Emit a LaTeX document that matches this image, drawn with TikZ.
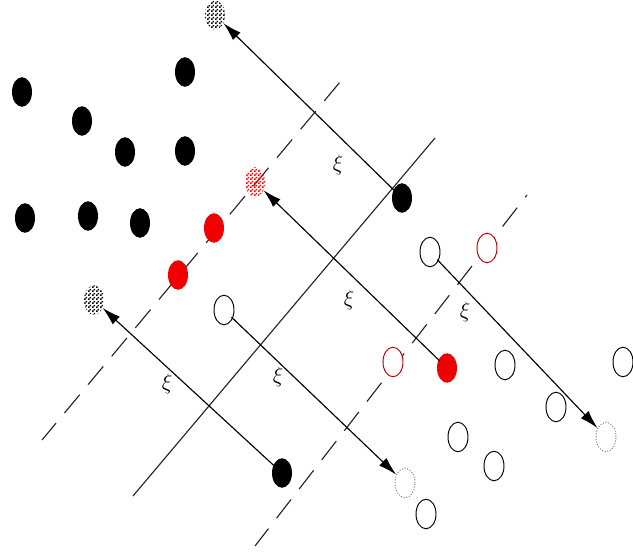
\documentclass[tikz,border=0pt]{standalone}
\usepackage{tikz}
\usetikzlibrary{shapes.geometric, arrows.meta, patterns}
\definecolor{rojoPunto}{HTML}{F00000}
\definecolor{grisPunto}{HTML}{707070}
\pgfdeclarepatternformonly{cuadritos}{\pgfqpoint{0pt}{0pt}}{\pgfqpoint{4pt}{4pt}}{\pgfqpoint{4pt}{4pt}}{%
    \pgfpathrectangle{\pgfqpoint{0pt}{0pt}}{\pgfqpoint{2pt}{2pt}}%
    \pgfpathrectangle{\pgfqpoint{2pt}{2pt}}{\pgfqpoint{2pt}{2pt}}%
    \pgfusepath{fill}}

\begin{document}
\begin{tikzpicture}[
        x=0.04cm, y=-0.04cm,
        dot/.style={ellipse, minimum width=0.8cm, minimum height=1.18cm, inner sep=0pt},
        blk/.style={dot, fill=black},
        rd/.style={dot, fill=rojoPunto},
        hol/.style={dot, draw=black, fill=white, line width=1.1pt},
        holr/.style={dot, draw=rojoPunto!80!black, fill=white, line width=1.1pt},
        ghost/.style={dot, draw=grisPunto, dotted, line width=1.1pt},
        chk/.style={dot, pattern=cuadritos, pattern color=black},
        chkr/.style={dot, pattern=cuadritos, pattern color=rojoPunto},
        mv/.style={-{Latex[length=21pt, width=12pt]}, line width=1.3pt, shorten <=-2pt},
        axis/.style={line width=1.3pt, black!85},
        cut/.style={line width=1.3pt, black!85, dash pattern=on 27pt off 15pt, dash phase=2pt},
        lbl/.style={font=\LARGE, scale=1.45}
    ]
        \useasboundingbox (0,0) rectangle (633,555);

        % lineas de separacion
        \coordinate (c1a) at (42,440);
        \coordinate (c1b) at (345,76);
        \coordinate (ma) at (133,496);
        \coordinate (mb) at (435,138);
        \coordinate (c2a) at (255,546);
        \coordinate (c2b) at (527,195);
        \draw[cut] (c1a) -- (c1b);
        \draw[axis] (ma) -- (mb);
        \draw[cut] (c2a) -- (c2b);

        % puntos negros
        \node[blk] (b1) at (22,92) {};
        \node[blk] (b2) at (185,72) {};
        \node[blk] (b3) at (82,121) {};
        \node[blk] (b4) at (125,152) {};
        \node[blk] (b5) at (185,151) {};
        \node[blk] (b6) at (25,218) {};
        \node[blk] (b7) at (88,216) {};
        \node[blk] (b8) at (140,223) {};
        \node[blk] (b9) at (402,198) {};
        \node[blk] (b10) at (282,473) {};

        % puntos rojos
        \node[rd] (r1) at (214,228) {};
        \node[rd] (r2) at (178,275) {};
        \node[rd] (r3) at (447,368) {};

        % puntos a cuadros
        \node[chk] (k1) at (215,15) {};
        \node[chk] (k2) at (94,300) {};
        \node[chkr] (k3) at (255,182) {};

        % puntos vacios
        \node[hol] (h1) at (430,252) {};
        \node[hol] (h2) at (224,310) {};
        \node[hol] (h3) at (505,365) {};
        \node[hol] (h4) at (556,407) {};
        \node[hol] (h5) at (623,362) {};
        \node[hol] (h6) at (458,437) {};
        \node[hol] (h7) at (494,466) {};
        \node[hol] (h8) at (426,514) {};
        \node[holr] (hr1) at (487,248) {};
        \node[holr] (hr2) at (393,362) {};
        \node[ghost] (g1) at (405,483) {};
        \node[ghost] (g2) at (606,437) {};

        % desplazamientos
        \draw[mv] (b9) -- (k1);
        \draw[mv] (r3) -- (k3);
        \draw[mv] (b10) -- (k2);
        \draw[mv] (h2) -- (g1);
        \draw[mv] (h1) -- (g2);

        \node[lbl] (x1) at (338,165) {$\xi$};
        \node[lbl] (x2) at (349,300) {$\xi$};
        \node[lbl] (x3) at (465,312) {$\xi$};
        \node[lbl] (x4) at (278,377) {$\xi$};
        \node[lbl] (x5) at (167,384) {$\xi$};
    \end{tikzpicture}
\end{document}
